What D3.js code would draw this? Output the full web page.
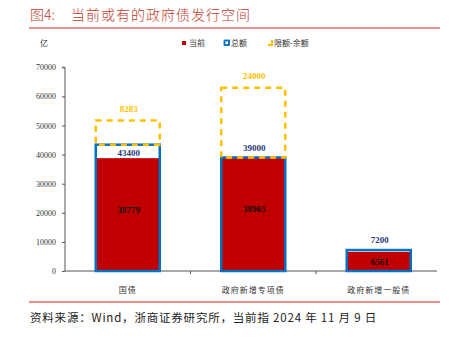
<!DOCTYPE html>
<html><head><meta charset="utf-8">
<script src="https://cdn.jsdelivr.net/npm/d3@7"></script>
<style>body{margin:0;background:#fff}svg{display:block}</style>
</head><body>
<svg id="c" width="450" height="342"></svg>
<script>
const categories = ["国债", "政府新增专项债", "政府新增一般债"];
const current = [38779, 38965, 6561];
const total = [43400, 39000, 7200];
const limitGap = [8283, 24000, null];
const yTicks = [0, 10000, 20000, 30000, 40000, 50000, 60000, 70000];

const svg = d3.select("#c");
const cjk = "'Noto Sans CJK SC', sans-serif";
const serif = "'Liberation Serif', 'Times New Roman', serif";

// title
svg.append("text").attr("x", 30).attr("y", 20).attr("fill", "#C0392B")
  .attr("font-family", cjk).attr("font-size", 14).attr("font-weight", 300).text("图4:");
svg.append("text").attr("x", 71).attr("y", 20).attr("fill", "#C0392B")
  .attr("font-family", cjk).attr("font-size", 14).attr("font-weight", 300).attr("letter-spacing", 1.0).text("当前或有的政府债发行空间");
svg.append("line").attr("x1", 29).attr("x2", 440).attr("y1", 28).attr("y2", 28)
  .attr("stroke", "#E07070").attr("stroke-width", 1.5);

const x = d3.scaleBand().domain(categories).range([65, 441.5]).paddingInner(0.49).paddingOuter(0.245);
const y = d3.scaleLinear().domain([0, 70000]).range([271, 67.3]);

// y axis
const ya = svg.append("g").attr("transform", "translate(65,0)")
  .call(d3.axisLeft(y).tickValues(yTicks).tickSize(3).tickFormat(d3.format("d")));
ya.select(".domain").attr("stroke", "#555").attr("d", "M-3,67.3H0V271");
ya.selectAll(".tick line").attr("stroke", "#555");
ya.selectAll("text").attr("font-family", serif).attr("font-size", 8).attr("fill", "#333").attr("x", -9);

// x axis
const xa = svg.append("g").attr("transform", "translate(0,271)");
xa.append("line").attr("x1", 65).attr("x2", 437).attr("stroke", "#555");
const step = x.step();
[1, 2].forEach(i => xa.append("line").attr("x1", 65 + step * i).attr("x2", 65 + step * i)
  .attr("y1", 0).attr("y2", 3).attr("stroke", "#555"));
xa.selectAll("text.cat").data(categories).join("text").attr("class", "cat")
  .attr("x", d => x(d) + x.bandwidth() / 2).attr("y", 22).attr("text-anchor", "middle")
  .attr("font-family", cjk).attr("font-size", 8).attr("fill", "#333").attr("letter-spacing", 1).text(d => d);

const g = svg.append("g");
// red current bars
g.selectAll("rect.cur").data(categories).join("rect").attr("class", "cur")
  .attr("x", d => x(d)).attr("width", x.bandwidth())
  .attr("y", (d, i) => y(current[i])).attr("height", (d, i) => y(0) - y(current[i]))
  .attr("fill", "#C00000");
// blue total boxes
g.selectAll("rect.tot").data(categories).join("rect").attr("class", "tot")
  .attr("x", d => x(d)).attr("width", x.bandwidth())
  .attr("y", (d, i) => y(total[i])).attr("height", (d, i) => y(0) - y(total[i]))
  .attr("fill", "none").attr("stroke", "#0070C0").attr("stroke-width", 2.5);
// yellow dashed limit boxes
g.selectAll("rect.lim").data(categories.filter((d, i) => limitGap[i] != null)).join("rect").attr("class", "lim")
  .attr("x", d => x(d)).attr("width", x.bandwidth())
  .attr("y", d => { const i = categories.indexOf(d); return y(total[i] + limitGap[i]); })
  .attr("height", d => { const i = categories.indexOf(d); return y(total[i]) - y(total[i] + limitGap[i]); })
  .attr("fill", "none").attr("stroke", "#FFC000").attr("stroke-width", 2.5).attr("stroke-dasharray", "6,5");

// labels
const lab = svg.append("g").attr("font-family", serif).attr("font-weight", "bold").attr("font-size", 9).attr("text-anchor", "middle");
lab.selectAll("text.lc").data(categories).join("text").attr("class", "lc")
  .attr("x", d => x(d) + x.bandwidth() / 2 + 1)
  .attr("y", (d, i) => i === 2 ? (y(current[i]) + y(0)) / 2 + 4 : (y(current[i]) + y(0)) / 2 - 2)
  .attr("fill", "#111").text((d, i) => current[i]);
lab.selectAll("text.lt").data(categories).join("text").attr("class", "lt")
  .attr("x", d => x(d) + x.bandwidth() / 2 + 1)
  .attr("y", (d, i) => i === 0 ? y(total[i]) + 11 : y(total[i]) - 7)
  .attr("fill", "#1F3A7A").text((d, i) => total[i]);
lab.selectAll("text.ll").data(categories.filter((d, i) => limitGap[i] != null)).join("text").attr("class", "ll")
  .attr("x", d => x(d) + x.bandwidth() / 2 + 1)
  .attr("y", d => { const i = categories.indexOf(d); return y(total[i] + limitGap[i]) - 9; })
  .attr("fill", "#FFC000").text(d => limitGap[categories.indexOf(d)]);

// unit
svg.append("text").attr("x", 40).attr("y", 46).attr("font-family", cjk).attr("font-size", 8).attr("fill", "#333").text("亿");

// legend
const lg = svg.append("g").attr("font-family", cjk).attr("font-size", 8).attr("fill", "#333");
lg.append("rect").attr("x", 182).attr("y", 41).attr("width", 4).attr("height", 4).attr("fill", "#C00000");
lg.append("text").attr("x", 189).attr("y", 46).text("当前");
lg.append("rect").attr("x", 224.5).attr("y", 40.5).attr("width", 4.5).attr("height", 4.5).attr("fill", "#fff").attr("stroke", "#0070C0").attr("stroke-width", 1.8);
lg.append("text").attr("x", 231).attr("y", 46).text("总额");
lg.append("path").attr("d", "M268,45H272V40").attr("fill", "none").attr("stroke", "#FFC000").attr("stroke-width", 2);
lg.append("text").attr("x", 274).attr("y", 46).text("限额-余额");

// bottom
svg.append("line").attr("x1", 29).attr("x2", 440).attr("y1", 302).attr("y2", 302).attr("stroke", "#D02020").attr("stroke-width", 1.2);
svg.append("text").attr("x", 30).attr("y", 322).attr("font-family", cjk).attr("font-size", 11.5).attr("letter-spacing", 0.8).attr("fill", "#222")
  .text("资料来源：Wind，浙商证券研究所，当前指 2024 年 11 月 9 日");
</script>
</body></html>
